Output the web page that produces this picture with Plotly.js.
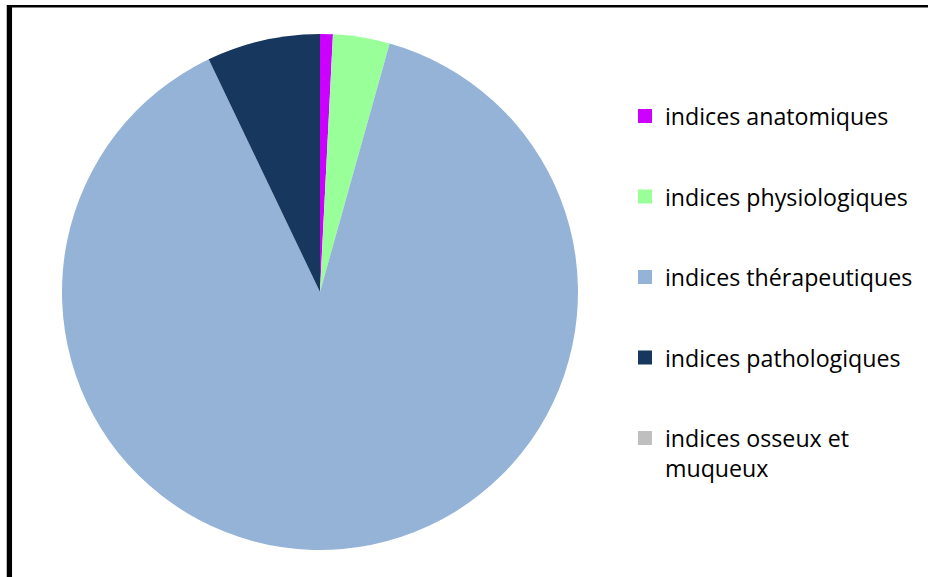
<!DOCTYPE html>
<html>
<head>
<meta charset="utf-8">
<script src="https://cdn.plot.ly/plotly-3.0.1.min.js"></script>
<style>html,body{margin:0;padding:0;background:#fff;}#chart{width:928px;height:577px;}</style>
</head>
<body>
<div id="chart"></div>
<script>
const categories = ["indices anatomiques", "indices physiologiques", "indices thérapeutiques", "indices pathologiques", "indices osseux et<br>muqueux"];
const values = [0.8, 3.55, 88.55, 7.1, 0];
const colors = ["#CC00FF", "#99FF99", "#95B3D7", "#17375E", "#BFBFBF"];

const W = 928, H = 577;
const cx = 320, cy = 292, r = 258;

const traces = [{
  type: "pie",
  labels: categories,
  values: values,
  sort: false,
  direction: "clockwise",
  rotation: 0,
  textinfo: "none",
  hoverinfo: "label+percent",
  showlegend: false,
  marker: {colors: colors, line: {width: 0}},
  domain: {x: [(cx - r) / W, (cx + r) / W], y: [(H - cy - r) / H, (H - cy + r) / H]}
}];

categories.forEach((c, i) => {
  traces.push({
    type: "scatter",
    mode: "markers",
    x: [null], y: [null],
    name: c,
    legendgroup: "g" + i,
    showlegend: true,
    hoverinfo: "skip",
    marker: {symbol: "square", size: 14, color: colors[i], line: {width: 0}}
  });
});

const layout = {
  width: W, height: H,
  margin: {l: 0, r: 0, t: 0, b: 0},
  paper_bgcolor: "#fff",
  plot_bgcolor: "rgba(0,0,0,0)",
  xaxis: {visible: false},
  yaxis: {visible: false},
  font: {family: "'Open Sans', sans-serif", color: "#000"},
  showlegend: true,
  legend: {
    x: 625 / W, xanchor: "left",
    y: 1 - 94.5 / H, yanchor: "top",
    font: {size: 23.2, color: "#000", family: "'Open Sans', sans-serif"},
    tracegroupgap: 47.3,
    valign: "top",
    bgcolor: "rgba(0,0,0,0)",
    borderwidth: 0
  },
  shapes: [
    {type: "line", xref: "paper", yref: "paper", x0: 9.4 / W, x1: 9.4 / W, y0: 0, y1: 1 - 5 / H, line: {color: "#000", width: 5.3}},
    {type: "line", xref: "paper", yref: "paper", x0: 7 / W, x1: 1, y0: 1 - 6.2 / H, y1: 1 - 6.2 / H, line: {color: "#000", width: 2.6}}
  ]
};

Plotly.newPlot("chart", traces, layout, {displayModeBar: false, staticPlot: true});
</script>
</body>
</html>
